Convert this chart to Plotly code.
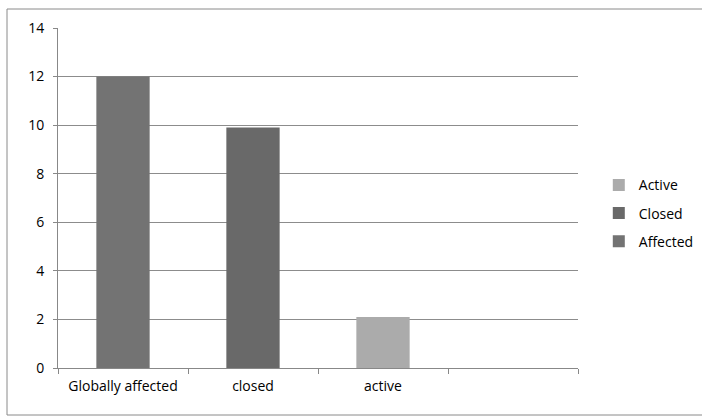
import plotly.graph_objects as go

# Categories on the x axis (the last slot is intentionally empty)
categories = ["Globally affected", "closed", "active", " "]

# Series: name, category it belongs to, value, colour
series_names = ["Active", "Closed", "Affected"]
series_category = ["active", "closed", "Globally affected"]
series_values = [2.1, 9.9, 12]
series_colors = ["#ababab", "#696969", "#737373"]

y_ticks = [0, 2, 4, 6, 8, 10, 12, 14]

font_family = "Open Sans, Liberation Sans, Arial, sans-serif"
font_size = 14

fig = go.Figure()
for name, cat, val, col in zip(series_names, series_category, series_values, series_colors):
    fig.add_trace(go.Bar(
        name=name,
        x=[cat],
        y=[val],
        marker=dict(color=col, line=dict(width=0)),
        width=0.41,
        legendgroup=name,
    ))

fig.update_layout(
    width=702,
    height=417,
    margin=dict(l=58, r=124, t=28, b=49, autoexpand=False),
    paper_bgcolor="white",
    plot_bgcolor="white",
    barmode="overlay",
    font=dict(family=font_family, size=font_size, color="#000000"),
    showlegend=True,
    legend=dict(
        x=1.04, y=0.455, xanchor="left", yanchor="middle",
        traceorder="grouped", tracegroupgap=7,
        font=dict(family=font_family, size=font_size, color="#000000"),
        itemwidth=30,
    ),
    xaxis=dict(
        type="category",
        categoryorder="array",
        categoryarray=categories,
        range=[-0.5, 3.5],
        tickson="boundaries",
        ticks="outside",
        ticklen=5,
        tickcolor="#888888",
        ticklabelstandoff=5,
        showline=True,
        linecolor="#888888",
        linewidth=1,
        showgrid=False,
        tickfont=dict(family=font_family, size=font_size, color="#000000"),
    ),
    yaxis=dict(
        range=[0, 14],
        tickvals=y_ticks,
        ticks="outside",
        ticklen=4,
        tickcolor="#888888",
        ticklabelstandoff=6,
        showline=True,
        linecolor="#888888",
        linewidth=1,
        showgrid=True,
        gridcolor="#8c8c8c",
        gridwidth=1,
        zeroline=False,
        tickfont=dict(family=font_family, size=font_size, color="#000000"),
    ),
    shapes=[dict(
        type="rect", xref="paper", yref="paper",
        x0=(7 - 58) / 520, x1=2.0,
        y0=-(415 - 368) / 340, y1=1 + (28 - 9) / 340,
        line=dict(color="#8a8a8a", width=1),
        fillcolor="rgba(0,0,0,0)",
        layer="below",
    )],
)

fig.write_html("out.html")
